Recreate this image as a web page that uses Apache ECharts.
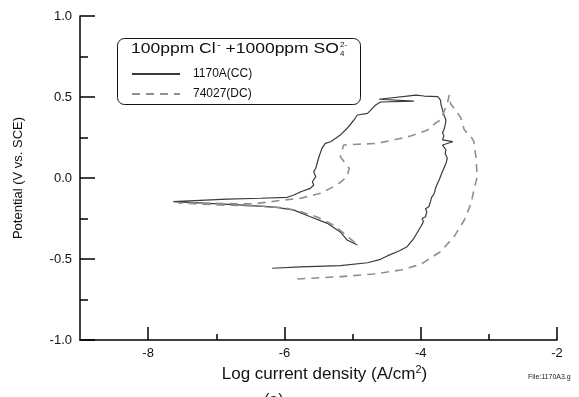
<!DOCTYPE html>
<html><head><meta charset="utf-8">
<script src="https://cdn.jsdelivr.net/npm/echarts@6/dist/echarts.min.js"></script>
<style>html,body{margin:0;padding:0;background:#fff}#c{width:579px;height:397px}</style>
</head><body><div id="c"></div>
<script>
// 1170A(CC) solid curve: log current density and potential
const ccLogI = [-6.18, -5.76, -5.18, -4.78, -4.59, -4.49, -4.32, -4.20, -4.10, -4.00,
  -3.96, -3.98, -3.93, -3.91, -3.93, -3.88, -3.86, -3.84, -3.80, -3.78,
  -3.76, -3.73, -3.70, -3.68, -3.66, -3.63, -3.61, -3.64, -3.63, -3.68,
  -3.53, -3.68, -3.66, -3.68, -3.66, -3.64, -3.63, -3.66, -3.68, -3.70, -3.71, -3.75,
  -3.95, -4.07, -4.61, -4.10, -4.59, -4.66, -4.78, -4.93, -4.98, -5.08,
  -5.18, -5.32, -5.40, -5.45, -5.50, -5.52, -5.54, -5.57, -5.54, -5.59,
  -5.57, -5.62, -5.76, -5.86, -5.96, -6.35, -6.84, -7.63,
  -6.60, -6.11, -5.86, -5.62, -5.37, -5.18, -5.08, -4.93];
const ccE = [-0.557, -0.549, -0.541, -0.523, -0.502, -0.481, -0.451, -0.424, -0.372, -0.301,
  -0.27, -0.25, -0.239, -0.21, -0.19, -0.177, -0.15, -0.12, -0.094, -0.06,
  -0.04, -0.012, 0.02, 0.04, 0.060, 0.09, 0.122, 0.15, 0.173, 0.204,
  0.224, 0.235, 0.26, 0.28, 0.296, 0.33, 0.358, 0.39, 0.420, 0.45, 0.481, 0.502,
  0.506, 0.512, 0.486, 0.475, 0.469, 0.451, 0.399, 0.389, 0.358, 0.307,
  0.265, 0.224, 0.214, 0.183, 0.122, 0.091, 0.060, 0.039, 0.008, -0.023,
  -0.043, -0.064, -0.085, -0.105, -0.119, -0.125, -0.131, -0.146,
  -0.167, -0.181, -0.198, -0.239, -0.280, -0.333, -0.383, -0.414];
// 74027(DC) dashed curve
const dcLogI = [-5.81, -5.18, -4.69, -4.29, -4.00, -3.71, -3.51, -3.36, -3.26, -3.22,
  -3.17, -3.19, -3.22, -3.26, -3.36, -3.41, -3.49, -3.56, -3.58,
  -3.61, -3.66, -3.71, -3.78, -3.90, -4.15, -4.39, -4.64, -4.93, -5.13,
  -5.15, -5.18, -5.05, -5.08, -5.23, -5.47, -5.76, -6.01, -6.46, -7.09, -7.56,
  -6.94, -6.35, -5.99, -5.76, -5.52, -5.28, -5.13, -4.96];
const dcE = [-0.623, -0.609, -0.593, -0.568, -0.533, -0.455, -0.362, -0.259, -0.156, -0.074,
  0.008, 0.131, 0.224, 0.255, 0.296, 0.370, 0.420, 0.457, 0.512,
  0.461, 0.407, 0.358, 0.340, 0.296, 0.259, 0.235, 0.214, 0.208, 0.204,
  0.193, 0.131, 0.060, 0.008, -0.043, -0.094, -0.125, -0.136, -0.160, -0.156, -0.154,
  -0.167, -0.173, -0.185, -0.208, -0.241, -0.290, -0.341, -0.401];

const seriesNames = ['1170A(CC)', '74027(DC)'];
const xMajorTicks = [-8, -6, -4, -2];
const xMinorTicks = [-7, -5, -3];
const yMajorTicks = [-1, -0.5, 0, 0.5, 1];
const yMinorTicks = [-0.75, -0.25, 0.25, 0.75];

const zip = (a, b) => a.map((v, i) => [v, b[i]]);
const FONT = 'Liberation Sans, Arial, sans-serif';
const chart = echarts.init(document.getElementById('c'), null, {renderer: 'canvas'});

const axisCommon = {
  type: 'value', splitLine: {show: false}
};
chart.setOption({
  animation: false,
  backgroundColor: '#fff',
  grid: {left: 80, top: 16, width: 477, height: 324, containLabel: false},
  xAxis: [
    Object.assign({}, axisCommon, {
      min: -9, max: -2, position: 'bottom',
      axisLine: {show: true, onZero: false, lineStyle: {color: '#000', width: 1.5}},
      axisTick: {show: true, inside: true, length: 13, customValues: xMajorTicks, lineStyle: {color: '#000', width: 1.5}},
      axisLabel: {customValues: xMajorTicks, formatter: v => String(v), fontSize: 13, color: '#111', fontFamily: FONT, margin: 7},
      name: 'Log current density (A/cm{sup|2})', nameLocation: 'middle', nameGap: 22,
      nameTextStyle: {fontSize: 17, color: '#111', fontFamily: FONT, padding: [0, 0, 0, 12],
        rich: {sup: {fontSize: 11, verticalAlign: 'top', padding: [0, 0, 8, 0], fontFamily: FONT, color: '#111'}}}
    }),
    Object.assign({}, axisCommon, {
      min: -9, max: -2, position: 'bottom', offset: 0,
      axisLine: {show: false, onZero: false},
      axisTick: {show: true, inside: true, length: 6, customValues: xMinorTicks, lineStyle: {color: '#000', width: 1.5}},
      axisLabel: {show: false}
    })
  ],
  yAxis: [
    Object.assign({}, axisCommon, {
      min: -1, max: 1, position: 'left',
      axisLine: {show: true, onZero: false, lineStyle: {color: '#000', width: 1.5}},
      axisTick: {show: true, inside: true, length: 15, customValues: yMajorTicks, lineStyle: {color: '#000', width: 1.5}},
      axisLabel: {customValues: yMajorTicks, formatter: v => v.toFixed(1), fontSize: 13, color: '#111', fontFamily: FONT, margin: 8},
      name: 'Potential (V vs. SCE)', nameLocation: 'middle', nameGap: 55, nameRotate: 90,
      nameTextStyle: {fontSize: 13, color: '#111', fontFamily: FONT}
    }),
    Object.assign({}, axisCommon, {
      min: -1, max: 1, position: 'left', offset: 0,
      axisLine: {show: false, onZero: false},
      axisTick: {show: true, inside: true, length: 8, customValues: yMinorTicks, lineStyle: {color: '#000', width: 1.5}},
      axisLabel: {show: false}
    })
  ],
  legend: {
    orient: 'vertical', left: 126, top: 63, itemWidth: 48, itemHeight: 10, itemGap: 8,
    data: seriesNames,
    itemStyle: {opacity: 0},
    textStyle: {fontSize: 12, color: '#111', fontFamily: FONT, padding: [0, 0, 0, 8]},
    selectedMode: false
  },
  series: [
    {name: seriesNames[0], type: 'line', xAxisIndex: 0, yAxisIndex: 0, data: zip(ccLogI, ccE),
      showSymbol: false, symbol: 'none', smooth: false,
      lineStyle: {color: '#3a3a3a', width: 1.2, type: 'solid'}, itemStyle: {color: '#3a3a3a'}},
    {name: seriesNames[1], type: 'line', xAxisIndex: 0, yAxisIndex: 0, data: zip(dcLogI, dcE),
      showSymbol: false, symbol: 'none', smooth: false,
      lineStyle: {color: '#8f8f8f', width: 1.6, type: [8, 6]}, itemStyle: {color: '#8f8f8f'}}
  ],
  graphic: [
    {type: 'rect', left: 117, top: 38, shape: {width: 243, height: 66, r: 7},
      style: {fill: 'rgba(0,0,0,0)', stroke: '#111', lineWidth: 1}, z: 10},
    {type: 'text', x: 131, y: 41, scaleX: 1.25, z: 11,
      style: {text: '100ppm Cl{sup|-} +1000ppm SO', fontSize: 14, fill: '#111', fontFamily: FONT,
        rich: {sup: {fontSize: 9, verticalAlign: 'top', padding: [0, 0, 8, 1], fontFamily: FONT, fill: '#111'}}}},
    {type: 'text', left: 340, top: 41, z: 11, style: {text: '2-', fontSize: 8, fill: '#111', fontFamily: FONT}},
    {type: 'text', left: 340, top: 50, z: 11, style: {text: '4', fontSize: 8, fill: '#111', fontFamily: FONT}},
    {type: 'text', left: 528, top: 374, style: {text: 'File:1170A3.g', fontSize: 7, fill: '#222', fontFamily: FONT}},
    {type: 'text', left: 264, top: 393, style: {text: '(a)', fontSize: 16, fill: '#222', fontFamily: FONT}}
  ]
});
</script>
</body></html>
